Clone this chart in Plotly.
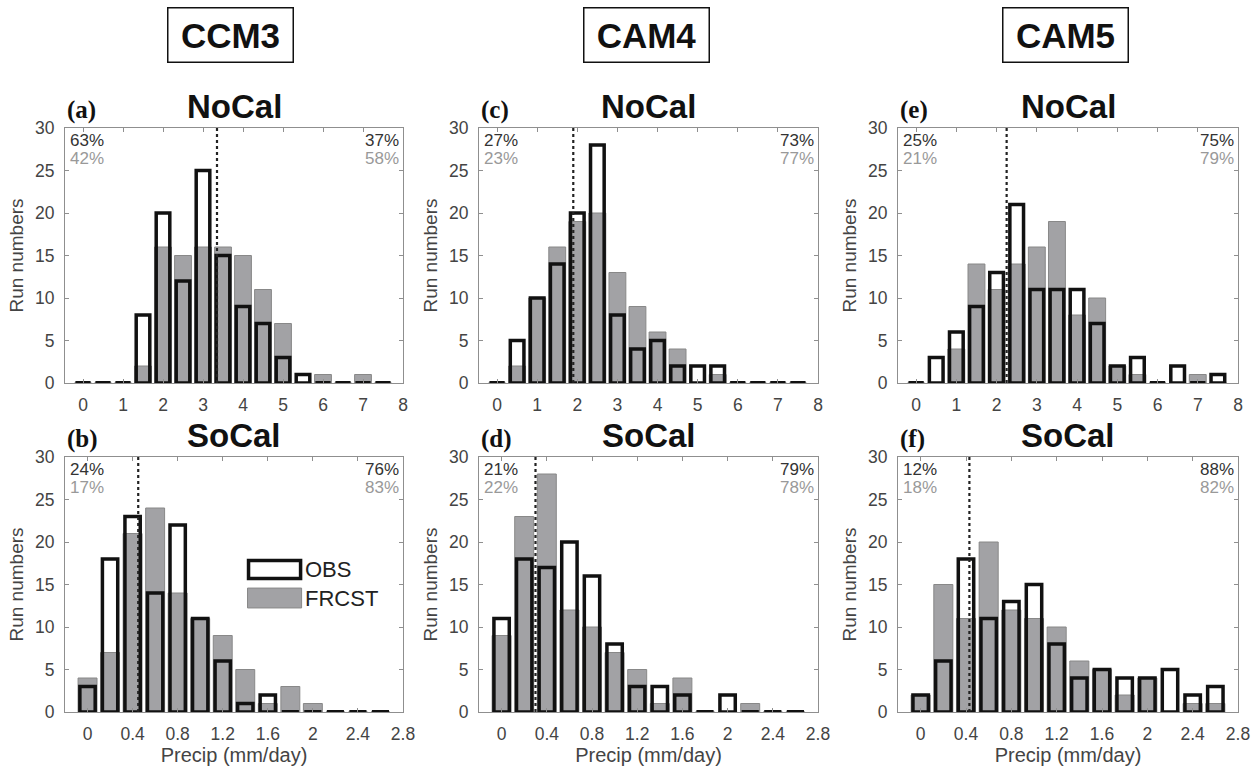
import plotly.graph_objects as go

# ---------------- data ----------------
models = ["CCM3", "CAM4", "CAM5"]
regions = ["NoCal", "SoCal"]
panel_letters = [["(a)", "(c)", "(e)"], ["(b)", "(d)", "(f)"]]

nocal_bins = [0, 0.5, 1.0, 1.5, 2.0, 2.5, 3.0, 3.5, 4.0, 4.5, 5.0, 5.5, 6.0, 6.5, 7.0, 7.5]
socal_bins = [0, 0.2, 0.4, 0.6, 0.8, 1.0, 1.2, 1.4, 1.6, 1.8, 2.0, 2.2, 2.4, 2.6]

ccm3_nocal_obs = [0, 0, 0, 8, 20, 12, 25, 15, 9, 7, 3, 1, 0, 0, 0, 0]
ccm3_nocal_frc = [0, 0, 0, 2, 16, 15, 16, 16, 15, 11, 7, 0, 1, 0, 1, 0]
cam4_nocal_obs = [0, 5, 10, 14, 20, 28, 8, 4, 5, 2, 2, 2, 0, 0, 0, 0]
cam4_nocal_frc = [0, 2, 10, 16, 19, 20, 13, 9, 6, 4, 0, 1, 0, 0, 0, 0]
cam5_nocal_obs = [0, 3, 6, 9, 13, 21, 11, 11, 11, 7, 2, 3, 0, 2, 0, 1]
cam5_nocal_frc = [0, 0, 4, 14, 11, 14, 16, 19, 8, 10, 2, 1, 0, 0, 1, 0]

ccm3_socal_obs = [3, 18, 23, 14, 22, 11, 6, 1, 2, 0, 0, 0, 0, 0]
ccm3_socal_frc = [4, 7, 21, 24, 14, 11, 9, 5, 1, 3, 1, 0, 0, 0]
cam4_socal_obs = [11, 18, 17, 20, 16, 8, 3, 3, 2, 0, 2, 0, 0, 0]
cam4_socal_frc = [9, 23, 28, 12, 10, 7, 5, 1, 4, 0, 0, 1, 0, 0]
cam5_socal_obs = [2, 6, 18, 11, 13, 15, 8, 4, 5, 4, 4, 5, 2, 3]
cam5_socal_frc = [2, 15, 11, 20, 12, 11, 10, 6, 5, 2, 4, 0, 1, 1]

nocal_thresholds = [3.35, 1.9, 2.25]
socal_thresholds = [0.45, 0.3, 0.43]

nocal_pct_obs = [(63, 37), (27, 73), (25, 75)]
nocal_pct_frc = [(42, 58), (23, 77), (21, 79)]
socal_pct_obs = [(24, 76), (21, 79), (12, 88)]
socal_pct_frc = [(17, 83), (22, 78), (18, 82)]

nocal_ticks = [0, 1, 2, 3, 4, 5, 6, 7, 8]
socal_ticks = [0, 0.4, 0.8, 1.2, 1.6, 2, 2.4, 2.8]
socal_ticktext = ["0", "0.4", "0.8", "1.2", "1.6", "2", "2.4", "2.8"]
y_ticks = [0, 5, 10, 15, 20, 25, 30]

# ---------------- layout geometry ----------------
W, H = 1258, 766
col_px = [(65, 403), (479, 818), (898, 1238)]
row_px = [(128, 383), (457, 712)]
header_cx = [230, 646, 1065]

FONT = "Arial, Liberation Sans, Helvetica, sans-serif"
FRAME = "#8f8f8f"
GREY_FILL = "#a2a2a5"
GREY_EDGE = "#888888"
TXT = "#444"
TICK_SIZE = 17.5

obs_all = [[ccm3_nocal_obs, cam4_nocal_obs, cam5_nocal_obs],
           [ccm3_socal_obs, cam4_socal_obs, cam5_socal_obs]]
frc_all = [[ccm3_nocal_frc, cam4_nocal_frc, cam5_nocal_frc],
           [ccm3_socal_frc, cam4_socal_frc, cam5_socal_frc]]
thr_all = [nocal_thresholds, socal_thresholds]
pct_obs_all = [nocal_pct_obs, socal_pct_obs]
pct_frc_all = [nocal_pct_frc, socal_pct_frc]

fig = go.Figure()
layout = dict(
    width=W, height=H,
    margin=dict(l=0, r=0, t=0, b=0, autoexpand=False),
    paper_bgcolor="white", plot_bgcolor="white",
    barmode="overlay", showlegend=False,
    font=dict(family=FONT, color=TXT),
)
annotations = []
shapes = []

for r in range(2):
    bins = nocal_bins if r == 0 else socal_bins
    spacing = bins[1] - bins[0]
    for c in range(3):
        idx = r * 3 + c + 1
        xa = "x" if idx == 1 else f"x{idx}"
        ya = "y" if idx == 1 else f"y{idx}"
        xkey = "xaxis" if idx == 1 else f"xaxis{idx}"
        ykey = "yaxis" if idx == 1 else f"yaxis{idx}"
        x0p, x1p = col_px[c]
        t, b = row_px[r]
        xdom = [x0p / W, x1p / W]
        ydom = [1 - b / H, 1 - t / H]

        obs = obs_all[r][c]
        frc = frc_all[r][c]

        # forecast (grey filled)
        fig.add_trace(go.Bar(
            x=bins, y=frc, width=0.84 * spacing, xaxis=xa, yaxis=ya,
            marker=dict(color=GREY_FILL, line=dict(color=GREY_EDGE, width=1)),
            name="FRCST"))
        # observed (thick black outline)
        fig.add_trace(go.Bar(
            x=bins, y=obs, width=0.68 * spacing, xaxis=xa, yaxis=ya,
            marker=dict(color="rgba(0,0,0,0)", line=dict(color="#111", width=3.5)),
            name="OBS"))
        # zero-count bins drawn as flat black dashes
        zx, zy = [], []
        for xv, ov in zip(bins, obs):
            if ov == 0:
                zx += [xv - 0.38 * spacing, xv + 0.38 * spacing, None]
                zy += [ov, ov, None]
        if zx:
            fig.add_trace(go.Scatter(x=zx, y=zy, mode="lines", xaxis=xa, yaxis=ya,
                                     line=dict(color="#111", width=4),
                                     hoverinfo="skip"))

        if r == 0:
            xr = [-0.45, 8.0]
            xtick = dict(tickvals=nocal_ticks, ticktext=[str(v) for v in nocal_ticks])
        else:
            xr = [-0.2, 2.8]
            xtick = dict(tickvals=socal_ticks, ticktext=socal_ticktext)

        layout[xkey] = dict(
            domain=xdom, anchor=ya, range=xr, showgrid=False, zeroline=False,
            showline=True, linecolor=FRAME, linewidth=1, mirror="ticks",
            ticks="inside", ticklen=4, tickcolor=FRAME, automargin=False,
            ticklabelstandoff=6,
            tickfont=dict(size=TICK_SIZE, color=TXT, family=FONT), **xtick)
        if r == 1:
            layout[xkey]["title"] = dict(text="Precip (mm/day)", standoff=2,
                                         font=dict(size=20, color=TXT, family=FONT))
        layout[ykey] = dict(
            domain=ydom, anchor=xa, range=[0, 30], showgrid=False, zeroline=False,
            showline=True, linecolor=FRAME, linewidth=1, mirror="ticks",
            ticks="inside", ticklen=4, tickcolor=FRAME, tickvals=y_ticks,
            automargin=False, ticklabelstandoff=6,
            tickfont=dict(size=TICK_SIZE, color=TXT, family=FONT),
            title=dict(text="Run numbers", standoff=6,
                       font=dict(size=19, color=TXT, family=FONT)))

        # threshold dotted line
        shapes.append(dict(type="line", xref=xa, yref=f"{ya} domain",
                           x0=thr_all[r][c], x1=thr_all[r][c], y0=0, y1=1,
                           line=dict(color="#222", width=2.2, dash="dot"),
                           layer="above"))

        # percentages
        po = pct_obs_all[r][c]
        pf = pct_frc_all[r][c]
        annotations += [
            dict(xref=f"{xa} domain", yref=f"{ya} domain", x=0.01, y=0.995,
                 xanchor="left", yanchor="top", showarrow=False,
                 text=f"{po[0]}%", font=dict(size=17, color="#333", family=FONT)),
            dict(xref=f"{xa} domain", yref=f"{ya} domain", x=0.01, y=0.925,
                 xanchor="left", yanchor="top", showarrow=False,
                 text=f"{pf[0]}%", font=dict(size=17, color="#999", family=FONT)),
            dict(xref=f"{xa} domain", yref=f"{ya} domain", x=0.995, y=0.995,
                 xanchor="right", yanchor="top", showarrow=False,
                 text=f"{po[1]}%", font=dict(size=17, color="#333", family=FONT)),
            dict(xref=f"{xa} domain", yref=f"{ya} domain", x=0.995, y=0.925,
                 xanchor="right", yanchor="top", showarrow=False,
                 text=f"{pf[1]}%", font=dict(size=17, color="#999", family=FONT)),
        ]

        # panel title and letter
        annotations.append(dict(
            xref="paper", yref="paper", x=(x0p + x1p) / 2 / W, y=1 - (t - 22) / H,
            xanchor="center", yanchor="middle", showarrow=False,
            text=f"<b>{regions[r]}</b>",
            font=dict(size=33, color="#111", family=FONT)))
        annotations.append(dict(
            xref="paper", yref="paper", x=(x0p) / W, y=1 - (t - 18) / H,
            xanchor="left", yanchor="middle", showarrow=False,
            text=f"<b>{panel_letters[r][c]}</b>",
            font=dict(size=25, color="#111", family="Liberation Serif, Times New Roman, serif")))

# column headers
for c in range(3):
    annotations.append(dict(
        xref="paper", yref="paper", x=header_cx[c] / W, y=1 - 35.5 / H,
        xanchor="center", yanchor="middle", showarrow=False,
        text=f"<b>{models[c]}</b>", width=122, height=51, borderpad=1,
        bordercolor="#111", borderwidth=1.5,
        font=dict(size=35, color="#111", family=FONT)))

# custom legend in panel (b)
lx, ly = "x4 domain", "y4 domain"
shapes.append(dict(type="rect", xref=lx, yref=ly, x0=0.543, x1=0.697, y0=0.524, y1=0.594,
                   line=dict(color="#111", width=3.5), fillcolor="rgba(0,0,0,0)", layer="above"))
shapes.append(dict(type="rect", xref=lx, yref=ly, x0=0.540, x1=0.700, y0=0.408, y1=0.486,
                   line=dict(color=GREY_EDGE, width=1), fillcolor=GREY_FILL, layer="above"))
annotations.append(dict(xref=lx, yref=ly, x=0.705, y=0.559, xanchor="left", yanchor="middle",
                        showarrow=False, text="OBS", font=dict(size=22, color="#222", family=FONT)))
annotations.append(dict(xref=lx, yref=ly, x=0.705, y=0.447, xanchor="left", yanchor="middle",
                        showarrow=False, text="FRCST", font=dict(size=22, color="#222", family=FONT)))

layout["annotations"] = annotations
layout["shapes"] = shapes
fig.update_layout(**layout)
fig.write_html("out.html", config={"displayModeBar": False},
               post_script="document.body.style.margin='0';document.body.style.overflow='hidden';")
